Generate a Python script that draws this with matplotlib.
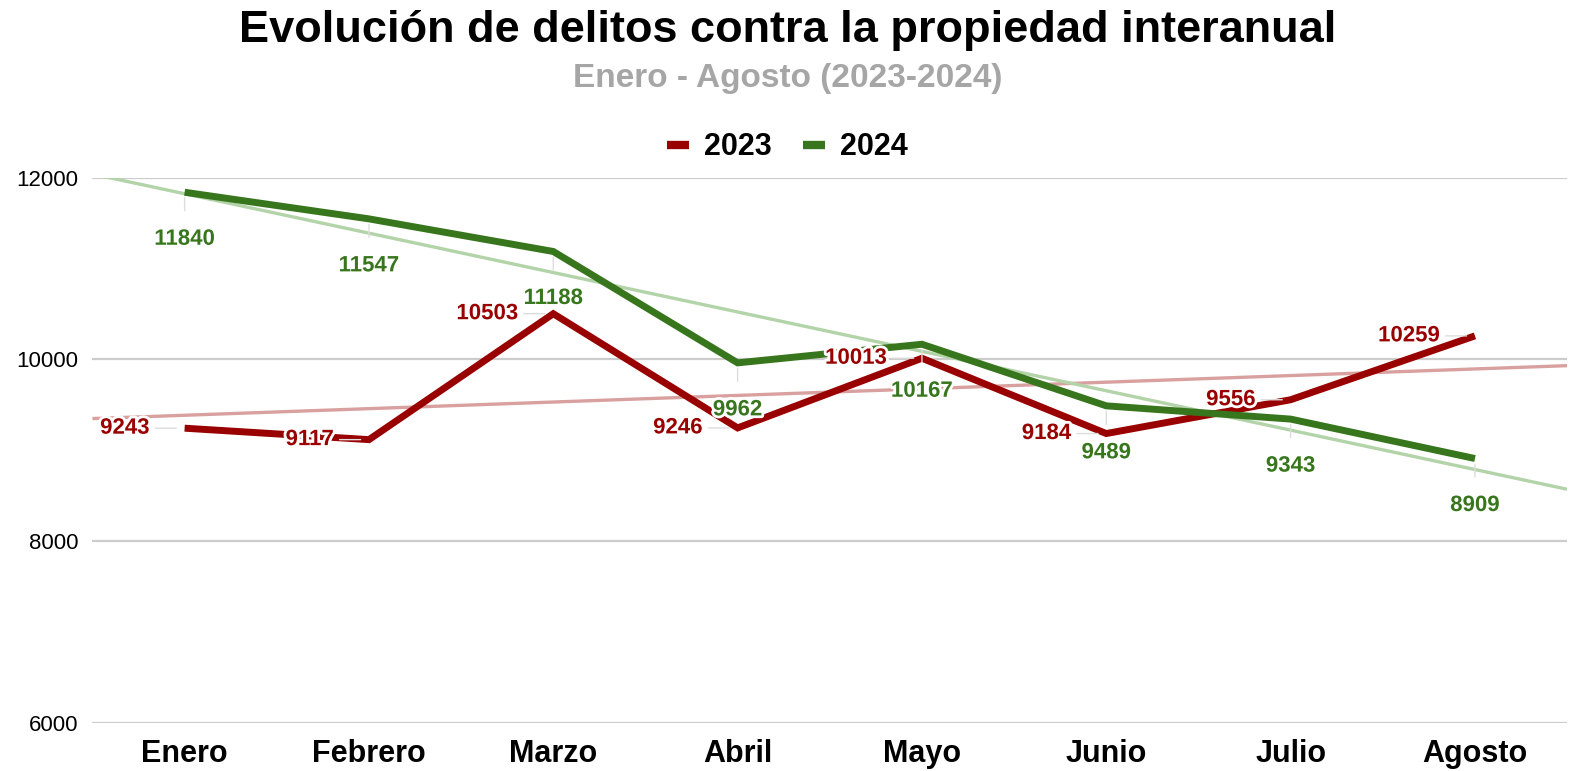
import matplotlib
matplotlib.use("Agg")
import matplotlib.pyplot as plt
import matplotlib.patheffects as pe
import numpy as np

meses = ["Enero", "Febrero", "Marzo", "Abril", "Mayo", "Junio", "Julio", "Agosto"]
v2023 = [9243, 9117, 10503, 9246, 10013, 9184, 9556, 10259]
v2024 = [11840, 11547, 11188, 9962, 10167, 9489, 9343, 8909]
yticks = [6000, 8000, 10000, 12000]

RED = "#990000"
GREEN = "#38761d"

plt.rcParams['font.family'] = ['Liberation Sans', 'DejaVu Sans']

fig = plt.figure(figsize=(15.75, 7.71), dpi=100)
ax = fig.add_axes([0.0587, 0.0625, 0.9363, 0.707])

x = np.arange(len(meses))
xl = np.array([-0.5, len(meses) - 0.5])

# trendlines
for vals, col in [(v2023, "#d9a0a0"), (v2024, "#b3d3a8")]:
    m, b = np.polyfit(x, vals, 1)
    ax.plot(xl, m * xl + b, color=col, lw=2.4, zorder=2, solid_capstyle='butt')

ax.plot(x, v2023, color=RED, lw=5.0, zorder=3, solid_joinstyle='miter', solid_capstyle='butt', label="2023")
ax.plot(x, v2024, color=GREEN, lw=5.0, zorder=3, solid_joinstyle='miter', solid_capstyle='butt', label="2024")

halo = [pe.withStroke(linewidth=4, foreground="white")]
for xi, v in zip(x, v2023):
    ax.annotate(str(v), xy=(xi, v), xytext=(-35, 0), textcoords='offset pixels',
                ha='right', va='center', color=RED, fontsize=16, fontweight='bold',
                path_effects=halo, zorder=5,
                arrowprops=dict(arrowstyle='-', color='#dddddd', lw=1, shrinkA=2, shrinkB=6))
for xi, v in zip(x, v2024):
    ax.annotate(str(v), xy=(xi, v), xytext=(0, -47), textcoords='offset pixels',
                ha='center', va='center', color=GREEN, fontsize=16, fontweight='bold',
                path_effects=halo, zorder=5,
                arrowprops=dict(arrowstyle='-', color='#dddddd', lw=1, shrinkA=11, shrinkB=4))

ax.set_xlim(xl)
ax.set_ylim(6000, 12000)
ax.set_yticks(yticks)
ax.set_yticklabels([str(t) for t in yticks], fontsize=16)
ax.set_xticks(x)
ax.set_xticklabels(meses, fontsize=22, fontweight='bold')
ax.grid(axis='y', color='#cccccc', lw=1.6)
ax.set_axisbelow(True)
for s in ax.spines.values():
    s.set_visible(False)
ax.tick_params(axis='both', length=0)
ax.tick_params(axis='y', pad=10)
ax.tick_params(axis='x', pad=12)

fig.text(0.5, 0.960, "Evolución de delitos contra la propiedad interanual",
         ha='center', va='center', fontsize=32.5, fontweight='bold', color='black')
fig.text(0.5, 0.898, "Enero - Agosto (2023-2024)",
         ha='center', va='center', fontsize=24, fontweight='bold', color='#a6a6a6')

leg = fig.legend(loc='center', bbox_to_anchor=(0.5, 0.809), ncol=2, frameon=False,
                 handlelength=0.72, columnspacing=1.0, handletextpad=0.5,
                 prop={'weight': 'bold', 'size': 22})
for h in leg.get_lines():
    h.set_linewidth(6)

fig.savefig("out.png", dpi=100)
